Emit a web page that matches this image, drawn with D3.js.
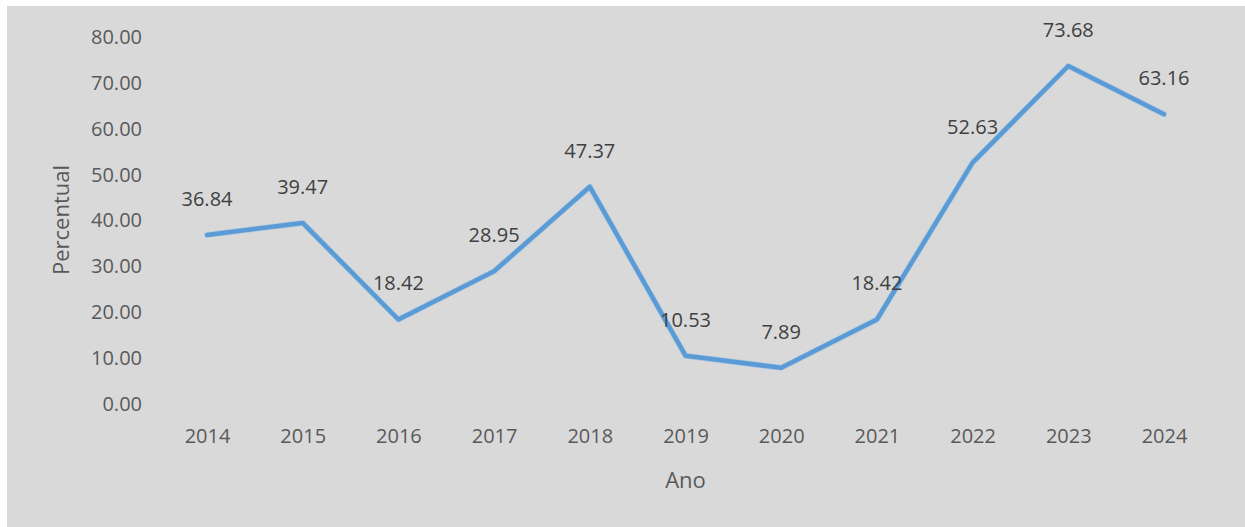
<!DOCTYPE html>
<html>
<head>
<meta charset="utf-8">
<script src="https://cdn.jsdelivr.net/npm/d3@7"></script>
<style>
  html, body { margin: 0; padding: 0; background: #ffffff; }
  svg { display: block; }
  text { font-family: "Open Sans", "Noto Sans", sans-serif; }
</style>
</head>
<body>
<svg id="chart" width="1245" height="527"></svg>
<script>
// ---- data ----
const years = ["2014","2015","2016","2017","2018","2019","2020","2021","2022","2023","2024"];
const percentual = [36.84, 39.47, 18.42, 28.95, 47.37, 10.53, 7.89, 18.42, 52.63, 73.68, 63.16];
const yTicks = [0, 10, 20, 30, 40, 50, 60, 70, 80];
const yTitle = "Percentual";
const xTitle = "Ano";

// ---- layout ----
const W = 1245, H = 527;
const svg = d3.select("#chart");

// background panel
svg.append("rect").attr("x", 0).attr("y", 0).attr("width", W).attr("height", H).attr("fill", "#ffffff");
svg.append("rect").attr("x", 7).attr("y", 6).attr("width", W - 7).attr("height", H - 6).attr("fill", "#d9d9d9");

const x = d3.scalePoint().domain(years).range([207, 1164]);
const y = d3.scaleLinear().domain([0, 80]).range([404, 37]);

// y axis
const yAxis = svg.append("g")
  .attr("transform", "translate(142,0)")
  .call(d3.axisLeft(y).tickValues(yTicks).tickFormat(d3.format(".2f")).tickSize(0).tickPadding(0));
yAxis.select(".domain").remove();
yAxis.selectAll("text")
  .attr("font-family", "'Open Sans', sans-serif")
  .attr("font-size", 20)
  .attr("fill", "#595959");

// x axis
const xAxis = svg.append("g")
  .attr("transform", "translate(0,404)")
  .call(d3.axisBottom(x).tickSize(0).tickPadding(25));
xAxis.select(".domain").remove();
xAxis.selectAll("text")
  .attr("font-family", "'Open Sans', sans-serif")
  .attr("font-size", 20)
  .attr("fill", "#595959");

// axis titles
svg.append("text")
  .attr("transform", "translate(69,220) rotate(-90)")
  .attr("text-anchor", "middle")
  .attr("font-size", 22)
  .attr("fill", "#595959")
  .text(yTitle);

svg.append("text")
  .attr("x", (x(years[0]) + x(years[years.length - 1])) / 2)
  .attr("y", 488)
  .attr("text-anchor", "middle")
  .attr("font-size", 22)
  .attr("fill", "#595959")
  .text(xTitle);

// line
const data = years.map((yr, i) => ({ year: yr, value: percentual[i] }));
const line = d3.line().x(d => x(d.year)).y(d => y(d.value));
svg.append("path")
  .datum(data)
  .attr("d", line)
  .attr("fill", "none")
  .attr("stroke", "#9dc3e6")
  .attr("stroke-width", 6)
  .attr("stroke-linejoin", "round")
  .attr("stroke-linecap", "round")
  .attr("opacity", 0.6);
svg.append("path")
  .datum(data)
  .attr("d", line)
  .attr("fill", "none")
  .attr("stroke", "#5b9bd5")
  .attr("stroke-width", 4.5)
  .attr("stroke-linejoin", "round")
  .attr("stroke-linecap", "round");

// data labels
svg.append("g").selectAll("text")
  .data(data)
  .join("text")
  .attr("x", d => x(d.year))
  .attr("y", d => y(d.value) - 29)
  .attr("text-anchor", "middle")
  .attr("font-size", 20)
  .attr("fill", "#404040")
  .text(d => d3.format(".2f")(d.value));
</script>
</body>
</html>
